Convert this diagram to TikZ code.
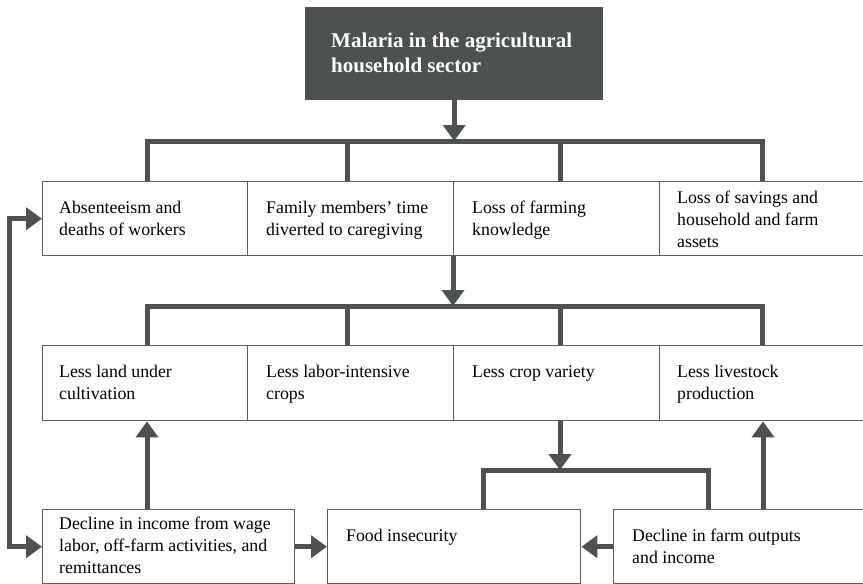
\documentclass[tikz,border=0pt]{standalone}
\usepackage{fontspec}
\setmainfont{Liberation Serif}
\usetikzlibrary{arrows.meta}
\definecolor{ink}{HTML}{4D5150}
\definecolor{edge}{HTML}{5A5E5D}

% label nodes are placed by the baseline of their last line
\tikzset{
  box/.style={draw=edge, line width=1.4pt, inner sep=0pt, anchor=north west},
  headbox/.style={fill=ink, inner sep=0pt, anchor=north west},
  lbl/.style={anchor=base west, align=left, inner sep=0pt, text=black,
              font=\fontsize{17.8}{22}\selectfont},
  headlbl/.style={anchor=base west, align=left, inner sep=0pt, text=white,
              font=\fontsize{21}{25.5}\selectfont\bfseries},
  conn/.style={draw=ink, line width=5pt, line join=miter},
  arr/.style={conn, -{Triangle[width=22pt,length=16pt]}},
  twoway/.style={conn, {Triangle[width=22pt,length=16pt]}-{Triangle[width=22pt,length=16pt]}},
}

\begin{document}
\begin{tikzpicture}[x=1pt,y=-1pt]
\useasboundingbox (0,0) rectangle (863,584);

% heading
\node[headbox, minimum width=298pt, minimum height=93pt] (T) at (305,7) {};
\node[headlbl] (tT) at (331,72.5) {Malaria in the agricultural\\household sector};

% first row of effects
\node[box, minimum width=205pt, minimum height=74pt] (a1) at (42,181) {};
\node[box, minimum width=206pt, minimum height=74pt] (a2) at (247,181) {};
\node[box, minimum width=206pt, minimum height=74pt] (a3) at (453,181) {};
\node[box, minimum width=206pt, minimum height=74pt] (a4) at (659,181) {};
\node[lbl] (ta1) at (59,235) {Absenteeism and\\deaths of workers};
\node[lbl] (ta2) at (266,235) {Family members’ time\\diverted to caregiving};
\node[lbl] (ta3) at (472,235) {Loss of farming\\knowledge};
\node[lbl] (ta4) at (677,247) {Loss of savings and\\household and farm\\assets};

% second row of effects
\node[box, minimum width=205pt, minimum height=75pt] (b1) at (42,345) {};
\node[box, minimum width=206pt, minimum height=75pt] (b2) at (247,345) {};
\node[box, minimum width=206pt, minimum height=75pt] (b3) at (453,345) {};
\node[box, minimum width=206pt, minimum height=75pt] (b4) at (659,345) {};
\node[lbl] (tb1) at (59,399) {Less land under\\cultivation};
\node[lbl] (tb2) at (266,399) {Less labor-intensive\\crops};
\node[lbl] (tb3) at (472,377) {Less crop variety};
\node[lbl] (tb4) at (677,399) {Less livestock\\production};

% bottom row
\node[box, minimum width=252pt, minimum height=74pt] (c1) at (42,509) {};
\node[box, minimum width=253pt, minimum height=74pt] (c2) at (327,509) {};
\node[box, minimum width=252pt, minimum height=74pt] (c3) at (613,509) {};
\node[lbl] (tc1) at (59,573) {Decline in income from wage\\labor, off-farm activities, and\\remittances};
\node[lbl] (tc2) at (346,541) {Food insecurity};
\node[lbl] (tc3) at (632,563) {Decline in farm outputs\\and income};

% columns and bus levels of the connectors
\coordinate (xA) at (147,0);
\coordinate (xB) at (347,0);
\coordinate (xC) at (560,0);
\coordinate (xD) at (762,0);
\coordinate (xE) at (483,0);
\coordinate (xF) at (708,0);
\coordinate (xG) at (763,0);
\coordinate (loop) at (9,0);
\coordinate (bus1) at (0,141);
\coordinate (bus2) at (0,306);
\coordinate (bus3) at (0,470);

% heading to first row
\draw[arr] (T.south) -- (T.south |- bus1);
\draw[conn] (xA |- a1.north) -- (xA |- bus1) -- (xD |- bus1) -- (xD |- a4.north);
\draw[conn] (xB |- bus1) -- (xB |- a2.north);
\draw[conn] (xC |- bus1) -- (xC |- a3.north);

% first row to second row
\draw[arr] (a3.south west) -- (a3.south west |- bus2);
\draw[conn] (xA |- b1.north) -- (xA |- bus2) -- (xD |- bus2) -- (xD |- b4.north);
\draw[conn] (xB |- bus2) -- (xB |- b2.north);
\draw[conn] (xC |- bus2) -- (xC |- b3.north);

% crop variety to food insecurity and farm outputs
\draw[arr] (xC |- b3.south) -- (xC |- bus3);
\draw[conn] (xE |- c2.north) -- (xE |- bus3) -- (xF |- bus3) -- (xF |- c3.north);

% feedback arrows
\draw[arr] (xA |- c1.north) -- (xA |- b1.south);
\draw[arr] (xG |- c3.north) -- (xG |- b4.south);
\draw[arr] (c1.east) -- (c2.west);
\draw[arr] (c3.west) -- (c2.east);
\draw[twoway] (a1.west) -- (a1.west -| loop) -- (c1.west -| loop) -- (c1.west);
\end{tikzpicture}
\end{document}
